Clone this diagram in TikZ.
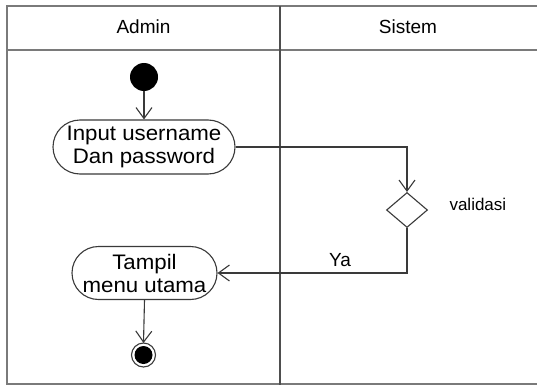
\documentclass[tikz,border=0pt]{standalone}
\usepackage{fontspec}
\setmainfont{Liberation Sans}
\usetikzlibrary{shapes.misc,shapes.geometric,arrows.meta}
\definecolor{framegray}{HTML}{7A7A7A}
\definecolor{inkgray}{HTML}{3A3A3A}
\tikzset{
  lane/.style={draw=framegray,line width=2pt},
  divider/.style={draw=inkgray!90,line width=1.8pt},
  actbox/.style={draw=inkgray,line width=1.1pt,rounded rectangle,inner sep=0pt,
    align=center,font=\fontsize{21}{23}\selectfont},
  decide/.style={draw=inkgray,line width=1.1pt,diamond,inner sep=0pt,
    minimum width=41pt,minimum height=35pt},
  flow/.style={draw=inkgray,line width=1.1pt,
    -{Straight Barb[length=11pt,width=16pt,line width=1.1pt]}},
  lanehead/.style={font=\fontsize{19}{21}\selectfont}
}
\begin{document}
\begin{tikzpicture}[x=1pt,y=-1pt]
  \useasboundingbox (0,0) rectangle (537,385);
  \fill[white] (0,0) rectangle (537,385);

  % swimlane frame
  \draw[lane] (545,6) -- (7,6) -- (7,383.5) -- (545,383.5);
  \draw[lane] (7,50) -- (545,50);
  \draw[divider] (280,6) -- (280,385);
  \node[lanehead] (admin) at (143.5,27) {Admin};
  \node[lanehead] (sistem) at (408,27) {Sistem};

  % activity nodes
  \fill[black] (144,77) circle (14pt);
  \coordinate (start) at (144,91);
  \node[actbox,minimum width=182pt,minimum height=54pt] (input) at (144,147)
    {\scalebox{1.06}[1]{Input username}\\\scalebox{1.06}[1]{Dan password}};
  \node[decide] (valid) at (407,210) {};
  \node[font=\fontsize{17}{19}\selectfont,anchor=west] (vlabel) at (446,204) {validasi};
  \node[actbox,minimum width=145pt,minimum height=53pt] (tampil) at (144.5,273)
    {\scalebox{1.06}[1]{Tampil}\\\scalebox{1.06}[1]{menu utama}};
  \draw[inkgray,line width=1.1pt,fill=white] (143.5,355) circle (12pt);
  \fill[black] (143.5,355) circle (9pt);
  \coordinate (finish) at (143.5,343);

  % control flow
  \draw[flow] (start) -- (input.north);
  \draw[flow] (input.east) -| (valid.north);
  \draw[flow] (valid.south) |- (tampil.east);
  \node[font=\fontsize{19}{21}\selectfont] (ya) at (340,260) {Ya};
  \draw[flow] (tampil.south) -- (finish);
\end{tikzpicture}
\end{document}
